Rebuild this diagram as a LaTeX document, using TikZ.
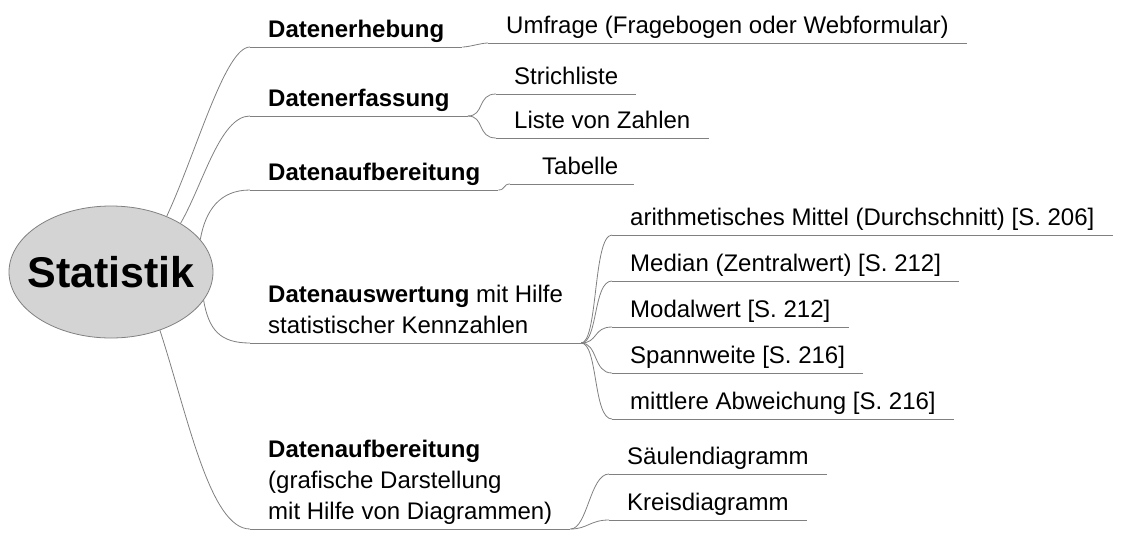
\documentclass[tikz,border=0pt]{standalone}
\usepackage{fontspec}
\setmainfont{Liberation Sans}
\usetikzlibrary{shapes.geometric}

\definecolor{linegray}{RGB}{128,128,128}
\definecolor{hubgray}{RGB}{212,212,212}

\tikzset{
  hub/.style={ellipse,draw=linegray,fill=hubgray,line width=0.8pt,
              minimum width=204pt,minimum height=132pt,inner sep=0pt},
  hubtext/.style={font=\fontsize{43}{50}\selectfont\bfseries},
  topic/.style={anchor=south west,inner xsep=18pt,inner ysep=0pt,align=left,
                font=\fontsize{24}{31}\selectfont,execute at end node=\strut},
  branch/.style={draw=linegray,line width=0.8pt},
  twig/.style={branch,to path={.. controls +(17,0) and +(-19,0) .. (\tikztotarget)}},
  hop/.style={branch,to path={.. controls +(7,0) and +(-7,0) .. (\tikztotarget)}},
}

\begin{document}
\begin{tikzpicture}[x=1pt,y=-1pt]
%
  \useasboundingbox (0,0) rectangle (1126,544);
%
  \node[hub,label={[hubtext]center:Statistik}] (stat) at (111,272) {};
%
  % main topics
  \node[topic] (erheb)  at (250,47)  {\textbf{Datenerhebung}};
  \node[topic] (erfass) at (250,116) {\textbf{Datenerfassung}};
  \node[topic] (aufb)   at (250,190) {\textbf{Datenaufbereitung}};
  \node[topic] (ausw)   at (250,343) {\textbf{Datenauswertung} mit Hilfe\\statistischer Kennzahlen};
  \node[topic] (grafik) at (250,529) {\textbf{Datenaufbereitung}\\(grafische Darstellung\\mit Hilfe von Diagrammen)};
%
  % subtopics
  \node[topic] (umfrage) at (488,43)  {Umfrage (Fragebogen oder Webformular)};
  \node[topic] (strich)  at (496,94)  {Strichliste};
  \node[topic] (liste)   at (496,138) {Liste von Zahlen};
  \node[topic,text width=92pt,align=right,inner xsep=16pt] (tab) at (510,184) {Tabelle};
  \node[topic] (mittel)  at (612,235) {arithmetisches Mittel (Durchschnitt) [S. 206]};
  \node[topic] (median)  at (612,281) {Median (Zentralwert) [S. 212]};
  \node[topic] (modal)   at (612,327) {Modalwert [S. 212]};
  \node[topic] (spann)   at (612,373) {Spannweite [S. 216]};
  \node[topic] (abw)     at (612,419) {mittlere Abweichung [S. 216]};
  \node[topic] (saeule)  at (609,474) {Säulendiagramm};
  \node[topic] (kreis)   at (609,520) {Kreisdiagramm};
%
  \foreach \n in {erheb,erfass,aufb,ausw,grafik,umfrage,strich,liste,tab,
                  mittel,median,modal,spann,abw,saeule,kreis}
    \draw[branch] (\n.south west) -- (\n.south east);
%
  \draw[branch] (stat.45)  .. controls +(65:70pt)  and +(-25,0) .. (erheb.south west);
  \draw[branch] (stat.35)  .. controls +(60:45pt)  and +(-30,0) .. (erfass.south west);
  \draw[branch] (stat.20)  .. controls +(80:30pt)  and +(-30,0) .. (aufb.south west);
  \draw[branch] (stat.-17) .. controls +(-80:30pt) and +(-30,0) .. (ausw.south west);
  \draw[branch] (stat.-50) .. controls +(-72:90pt) and +(-40,0) .. (grafik.south west);
%
  \draw[hop]  (erheb.south east)  to (umfrage.south west);
  \draw[twig] (erfass.south east) to (strich.south west);
  \draw[twig] (erfass.south east) to (liste.south west);
  \draw[hop]  (aufb.south east)   to (tab.south west);
  \draw[twig] (ausw.south east)   to (mittel.south west);
  \draw[twig] (ausw.south east)   to (median.south west);
  \draw[twig] (ausw.south east)   to (modal.south west);
  \draw[twig] (ausw.south east)   to (spann.south west);
  \draw[twig] (ausw.south east)   to (abw.south west);
  \draw[twig] (grafik.south east) to (saeule.south west);
  \draw[twig] (grafik.south east) to (kreis.south west);
%
\end{tikzpicture}
\end{document}
